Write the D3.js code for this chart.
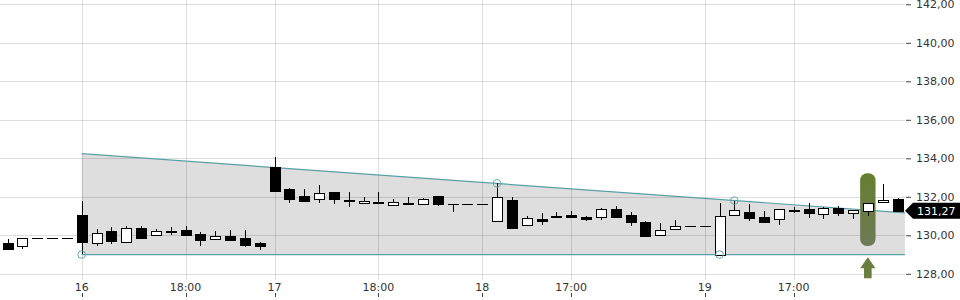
<!DOCTYPE html>
<html>
<head>
<meta charset="utf-8">
<script src="https://cdn.jsdelivr.net/npm/d3@7"></script>
<style>
  html, body { margin: 0; padding: 0; background: #fff; }
  svg { display: block; font-family: "DejaVu Sans", sans-serif; }
</style>
</head>
<body>
<svg id="chart" width="960" height="300"></svg>
<script>
'use strict';

// candles, one per slot (index = position on the time axis)
const opens  = [129.58, 129.46, 129.84, 129.84, 129.84, 131.05, 129.58, 130.22, 129.67, 130.36,
                130.00, 130.21, 130.26, 130.07, 129.79, 129.96, 129.86, 129.60, 133.55, 132.41,
                132.04, 131.87, 132.23, 131.82, 131.66, 131.75, 131.56, 131.69, 131.61, 132.03,
                131.64, 131.64, 131.64, 130.73, 131.83, 130.52, 130.86, 131.00, 131.04, 130.95,
                130.94, 131.35, 131.05, 130.71, 130.00, 130.34, 130.47, 130.47, 129.00, 131.04,
                131.21, 130.95, 130.83, 131.34, 131.35, 131.09, 131.42, 131.14, 131.25, 131.71,
                131.89];
const highs  = [129.81, 129.84, 129.84, 129.84, 129.84, 131.78, 130.31, 130.42, 130.48, 130.48,
                130.34, 130.45, 130.48, 130.19, 130.22, 130.28, 130.28, 129.65, 134.05, 132.46,
                132.41, 132.61, 132.23, 132.23, 131.98, 132.24, 131.89, 132.01, 131.94, 132.03,
                131.64, 131.64, 131.64, 132.70, 131.99, 131.00, 131.17, 131.21, 131.26, 131.00,
                131.40, 131.52, 131.21, 130.76, 130.64, 130.79, 130.47, 130.47, 131.69, 131.80,
                131.61, 131.26, 131.35, 131.49, 131.68, 131.49, 131.52, 131.30, 131.66, 132.68,
                131.92];
const lows   = [129.27, 129.30, 129.84, 129.84, 129.84, 129.01, 129.46, 129.56, 129.62, 129.88,
                130.00, 130.03, 130.03, 129.46, 129.79, 129.77, 129.39, 129.25, 132.32, 131.69,
                131.80, 131.70, 131.61, 131.45, 131.66, 131.66, 131.56, 131.65, 131.56, 131.54,
                131.23, 131.64, 131.64, 130.73, 130.39, 130.52, 130.54, 130.93, 130.97, 130.76,
                130.79, 130.94, 130.48, 129.98, 130.00, 130.34, 130.47, 130.47, 129.00, 131.04,
                130.76, 130.65, 130.54, 131.14, 130.91, 130.85, 131.02, 130.83, 131.02, 131.71,
                131.27];
const closes = [129.27, 129.84, 129.84, 129.84, 129.84, 129.67, 130.10, 129.72, 130.36, 129.88,
                130.22, 130.16, 130.03, 129.77, 129.95, 129.77, 129.51, 129.46, 132.32, 131.90,
                131.80, 132.18, 131.90, 131.77, 131.77, 131.66, 131.71, 131.65, 131.87, 131.61,
                131.64, 131.64, 131.64, 131.97, 130.39, 130.88, 130.76, 130.97, 130.97, 130.86,
                131.35, 130.94, 130.71, 129.98, 130.26, 130.47, 130.47, 130.47, 130.99, 131.30,
                130.91, 130.69, 131.35, 131.26, 131.14, 131.42, 131.17, 131.30, 131.66, 131.82,
                131.27];

// time axis labels, at slot index
const timeTickIndex = [5, 12, 18, 25, 32, 38, 47, 53];
const timeTickLabels = ['16', '18:00', '17', '18:00', '18', '17:00', '19', '17:00'];

const priceTicks = [128, 130, 132, 134, 136, 138, 140, 142];

// trend channel: [index, price]
const channelUpper = [[5, 134.24], [60.5, 131.17]];
const channelLower = [[5, 129.00], [60.5, 129.00]];
const touchPoints = [[5, 129.00], [33, 132.70], [48, 129.00], [49, 131.80]];

// highlighted signal candle
const signalIndex = 58;
const signalRange = [129.44, 133.22];
const lastPrice = 131.27;

const svg = d3.select('#chart');
const plotRight = 905;

const x = d3.scaleLinear().domain([0, 60]).range([7.5, 897.5]);
const y = d3.scaleLinear().domain([128, 142]).range([273.8, 4.3]);
const fmt = d => d.toFixed(2).replace('.', ',');
const sx = v => Math.round(v) + 0.5;
const sy = v => Math.round(v) + 0.5;

// channel fill
const band = d3.area()
  .x(d => x(d[0]))
  .y0((d, i) => y(channelLower[i][1]))
  .y1(d => y(d[1]));
svg.append('path')
  .datum(channelUpper)
  .attr('d', band)
  .attr('fill', '#dedede');

// grid
const grid = svg.append('g').attr('shape-rendering', 'crispEdges');
grid.selectAll('line.h')
  .data(priceTicks)
  .join('line')
  .attr('class', 'h')
  .attr('x1', 0)
  .attr('x2', plotRight)
  .attr('y1', d => sy(y(d)))
  .attr('y2', d => sy(y(d)))
  .attr('stroke', 'rgba(0,0,0,0.13)');
grid.selectAll('line.v')
  .data(timeTickIndex)
  .join('line')
  .attr('class', 'v')
  .attr('x1', d => sx(x(d)))
  .attr('x2', d => sx(x(d)))
  .attr('y1', 0)
  .attr('y2', 280)
  .attr('stroke', 'rgba(0,0,0,0.13)');

// channel lines
const line = d3.line().x(d => x(d[0])).y(d => y(d[1]));
[channelUpper, channelLower].forEach(pts => {
  svg.append('path')
    .datum(pts)
    .attr('d', line)
    .attr('fill', 'none')
    .attr('stroke', '#5a9fa6')
    .attr('stroke-width', 1.2);
});

// signal highlight
const defs = svg.append('defs');
const grad = defs.append('linearGradient')
  .attr('id', 'sig')
  .attr('x1', 0).attr('y1', 0).attr('x2', 0).attr('y2', 1);
grad.append('stop').attr('offset', '0%').attr('stop-color', '#657e2f');
grad.append('stop').attr('offset', '100%').attr('stop-color', '#6e7a56');
const sigX = x(signalIndex);
svg.append('rect')
  .attr('x', sigX - 7.7)
  .attr('y', y(signalRange[1]))
  .attr('width', 15.4)
  .attr('height', y(signalRange[0]) - y(signalRange[1]))
  .attr('rx', 7)
  .attr('ry', 7)
  .attr('fill', 'url(#sig)');

// arrow below the signal
const arrowTop = y(128) - 16.5;
svg.append('path')
  .attr('d', `M${sigX},${arrowTop} L${sigX + 7.7},${arrowTop + 11} L${sigX + 3.8},${arrowTop + 11}
    L${sigX + 3.8},${arrowTop + 21} L${sigX - 3.8},${arrowTop + 21} L${sigX - 3.8},${arrowTop + 11}
    L${sigX - 7.7},${arrowTop + 11} Z`)
  .attr('fill', '#6b7d3f');

// candles
const candles = opens.map((o, i) => ({i, o, h: highs[i], l: lows[i], c: closes[i]}));
const cg = svg.append('g')
  .attr('shape-rendering', 'crispEdges')
  .selectAll('g')
  .data(candles)
  .join('g');

cg.append('line')
  .attr('x1', d => sx(x(d.i)))
  .attr('x2', d => sx(x(d.i)))
  .attr('y1', d => Math.round(y(d.h)))
  .attr('y2', d => Math.round(y(d.l)))
  .attr('stroke', '#000');

cg.each(function (d) {
  const el = d3.select(this);
  const top = Math.round(y(Math.max(d.o, d.c)));
  const bot = Math.round(y(Math.min(d.o, d.c)));
  const left = Math.round(x(d.i)) - 5;
  if (bot - top < 1) {
    el.append('line')
      .attr('x1', left)
      .attr('x2', left + 11)
      .attr('y1', top + 0.5)
      .attr('y2', top + 0.5)
      .attr('stroke', '#000');
  } else {
    el.append('rect')
      .attr('x', left + 0.5)
      .attr('y', top + 0.5)
      .attr('width', 10)
      .attr('height', bot - top)
      .attr('fill', d.c >= d.o ? '#fff' : '#000')
      .attr('stroke', '#000');
  }
});

// touch markers
svg.selectAll('circle.touch')
  .data(touchPoints)
  .join('circle')
  .attr('class', 'touch')
  .attr('cx', d => x(d[0]))
  .attr('cy', d => y(d[1]))
  .attr('r', 3.8)
  .attr('fill', 'none')
  .attr('stroke', '#6aa8ae')
  .attr('stroke-width', 1);

// price axis
const yAxis = svg.append('g')
  .attr('transform', `translate(${plotRight},0)`)
  .call(d3.axisRight(y).tickValues(priceTicks).tickFormat(fmt).tickSize(5).tickPadding(6));
yAxis.select('.domain').remove();
yAxis.selectAll('line').attr('stroke', '#444').attr('transform', 'translate(1,0)');
yAxis.selectAll('text')
  .attr('fill', '#333')
  .attr('font-size', 11)
  .attr('font-family', '"DejaVu Sans", sans-serif');

// time axis
const xg = svg.append('g');
xg.selectAll('text')
  .data(timeTickIndex)
  .join('text')
  .attr('x', d => x(d))
  .attr('y', 291)
  .attr('text-anchor', 'middle')
  .attr('font-size', 11)
  .attr('fill', '#333')
  .text((d, i) => timeTickLabels[i]);
xg.selectAll('line')
  .data(timeTickIndex)
  .join('line')
  .attr('x1', d => sx(x(d)))
  .attr('x2', d => sx(x(d)))
  .attr('y1', 293)
  .attr('y2', 297)
  .attr('stroke', '#444')
  .attr('shape-rendering', 'crispEdges');

// last price tag
const ly = y(lastPrice);
svg.append('path')
  .attr('d', `M${plotRight},${ly} L${plotRight + 8},${ly - 8} L960,${ly - 8} L960,${ly + 8} L${plotRight + 8},${ly + 8} Z`)
  .attr('fill', '#000');
svg.append('text')
  .attr('x', 917)
  .attr('y', ly)
  .attr('dy', '0.36em')
  .attr('font-size', 11)
  .attr('fill', '#fff')
  .text(fmt(lastPrice));
</script>
</body>
</html>
